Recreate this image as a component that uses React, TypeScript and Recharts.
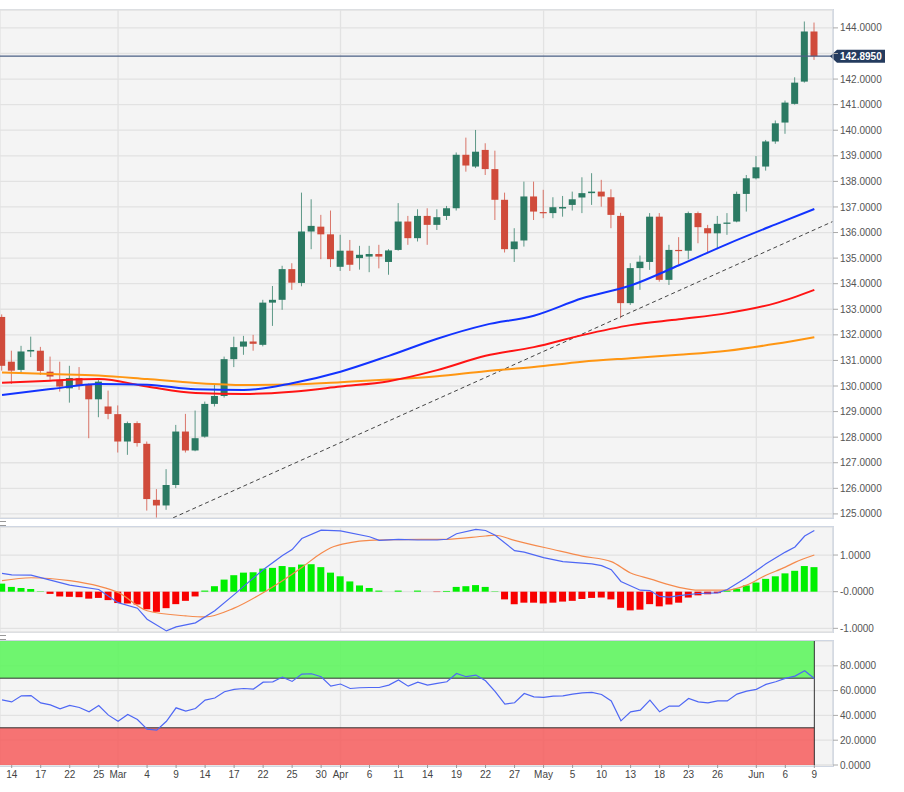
import React from "react";
import {
  ComposedChart,
  Bar,
  Line,
  XAxis,
  YAxis,
  CartesianGrid,
  ReferenceLine,
  ReferenceArea,
  Cell,
} from "recharts";

// bar index -1 = Feb 11, 0 = Feb 14 ... 83 = Jun 9 (weekdays)
const FIRST_IDX = -1;

const OPEN = [
  132.7, 130.95, 130.63, 131.35, 131.38, 130.56, 130.24, 129.91, 130.31, 130.04,
  129.48, 129.2, 128.9, 127.83, 128.55, 127.74, 125.55, 125.33, 126.13, 128.22,
  127.48, 128.02, 129.3, 129.61, 131.05, 131.54, 131.74, 131.61, 133.26, 133.37,
  134.57, 134.03, 136.04, 136.23, 135.93, 134.66, 135.29, 135.0, 135.06, 135.16,
  134.85, 135.32, 136.43, 135.78, 136.65, 136.3, 136.65, 136.95, 139.04, 138.58,
  139.23, 138.48, 137.28, 135.35, 135.69, 137.41, 136.8, 136.76, 136.94, 137.08,
  137.37, 137.54, 137.6, 137.38, 136.65, 133.24, 134.61, 134.85, 136.62, 134.15,
  135.32, 135.29, 136.76, 136.17, 135.97, 136.34, 136.43, 137.51, 138.12, 138.58,
  139.56, 140.3, 141.03, 141.9, 143.86,
];
const HIGH = [
  132.8, 131.38, 131.57, 131.93, 131.53, 131.15, 130.95, 130.79, 130.74, 130.1,
  130.31, 129.82, 129.24, 128.61, 128.62, 127.83, 125.97, 126.75, 128.48, 128.91,
  129.04, 129.39, 130.04, 131.15, 131.93, 131.96, 132.0, 133.37, 133.91, 134.7,
  134.8, 137.56, 137.3, 136.69, 136.86, 135.91, 135.71, 135.48, 135.48, 135.52,
  135.35, 137.15, 136.65, 136.91, 136.95, 136.91, 137.04, 139.13, 139.71, 140.01,
  139.49, 139.2, 137.56, 136.17, 137.99, 137.99, 137.67, 137.38, 137.43, 137.6,
  138.16, 138.32, 138.06, 137.69, 136.77, 134.8, 135.1, 136.76, 136.76, 135.52,
  135.82, 136.82, 136.82, 136.3, 136.65, 136.76, 137.6, 138.25, 138.99, 139.62,
  140.38, 141.16, 142.07, 144.25, 144.21,
];
const LOW = [
  130.6, 130.08, 130.51, 131.13, 130.43, 130.24, 129.78, 129.35, 129.85, 127.96,
  128.78, 128.7, 127.4, 127.31, 127.63, 125.13, 124.86, 125.16, 126.01, 127.4,
  127.45, 127.98, 129.2, 129.55, 130.74, 131.22, 131.38, 131.55, 132.35, 132.98,
  133.76, 133.9, 135.35, 134.96, 134.65, 134.5, 134.5, 134.55, 134.45, 134.6,
  134.35, 135.29, 135.52, 135.65, 135.52, 136.1, 136.49, 136.86, 138.38, 138.52,
  138.25, 136.49, 135.22, 134.85, 135.45, 136.49, 136.56, 136.56, 136.62, 136.86,
  136.76, 137.08, 137.01, 136.17, 132.65, 133.17, 133.76, 134.54, 134.08, 133.95,
  134.75, 134.95, 135.58, 135.19, 135.35, 135.91, 136.4, 136.82, 138.08, 138.42,
  139.47, 139.86, 141.0, 141.86, 142.75,
];
const CLOSE = [
  130.79, 130.6, 131.35, 131.41, 130.59, 130.37, 129.98, 130.31, 130.04, 129.48,
  130.17, 128.91, 127.83, 128.55, 127.77, 125.58, 125.33, 126.13, 128.22, 127.48,
  127.96, 129.3, 129.61, 131.05, 131.52, 131.74, 131.65, 133.26, 133.37, 134.57,
  134.04, 136.04, 136.26, 135.93, 134.96, 135.29, 134.74, 135.13, 135.16, 135.06,
  135.3, 136.43, 135.78, 136.65, 136.3, 136.6, 136.95, 139.04, 138.62, 139.16,
  138.48, 137.28, 135.35, 135.65, 137.41, 136.82, 136.76, 136.99, 137.0, 137.3,
  137.54, 137.6, 137.41, 136.69, 133.24, 134.61, 134.86, 136.62, 134.15, 135.32,
  135.28, 136.76, 136.21, 135.97, 136.34, 136.39, 137.51, 138.12, 138.55, 139.56,
  140.27, 141.08, 141.86, 143.86, 142.895,
];
const LAST_PRICE = 142.895;

// moving averages at a few bars
const MA_IDX = [-1, 4, 9, 14, 19, 24, 29, 34, 39, 44, 49, 54, 59, 64, 69, 74, 79, 83];
const SMA50 = [
  129.65, 129.88, 130.08, 130.05, 129.87, 129.84, 130.11, 130.56, 131.18, 131.85,
  132.39, 132.75, 133.43, 133.93, 134.72, 135.55, 136.32, 136.92,
];
const SMA100 = [
  130.13, 130.21, 130.27, 129.98, 129.73, 129.69, 129.78, 129.98, 130.19, 130.62,
  131.18, 131.52, 131.99, 132.38, 132.61, 132.85, 133.24, 133.76,
];
const SMA200 = [
  130.53, 130.47, 130.41, 130.27, 130.12, 130.04, 130.06, 130.15, 130.25, 130.38,
  130.58, 130.74, 130.95, 131.09, 131.22, 131.38, 131.65, 131.91,
];
const TREND = [
  { x: 16.7, y: 124.85 },
  { x: 84.9, y: 136.43 },
];

const HIST = [
  0.22, 0.13, 0.1, 0.07, 0.01, -0.06, -0.13, -0.14, -0.15, -0.19,
  -0.17, -0.23, -0.31, -0.32, -0.35, -0.48, -0.55, -0.45, -0.34, -0.25,
  -0.13, 0.03, 0.15, 0.33, 0.45, 0.52, 0.53, 0.63, 0.65, 0.7,
  0.67, 0.74, 0.75, 0.67, 0.52, 0.42, 0.28, 0.17, 0.1, 0.03,
  0.0, 0.03, 0.0, 0.03, 0.0, -0.01, 0.02, 0.13, 0.15, 0.18,
  0.13, 0.01, -0.21, -0.34, -0.3, -0.3, -0.32, -0.3, -0.27, -0.25,
  -0.2, -0.17, -0.16, -0.21, -0.44, -0.51, -0.49, -0.34, -0.4, -0.35,
  -0.3, -0.16, -0.1, -0.07, -0.04, 0.03, 0.08, 0.17, 0.25, 0.35,
  0.42, 0.5, 0.57, 0.7, 0.67,
];
const MACD_IDX = [
  -1, 0, 2, 6, 9, 11, 13, 14, 16, 17, 19, 21, 23, 26, 28, 29, 30, 32, 34, 37, 38,
  40, 42, 44, 45, 46, 48, 49, 50, 52, 53, 55, 57, 60, 61, 62, 63, 65, 66, 67, 68,
  69, 71, 73, 74, 76, 78, 80, 81, 82, 83,
];
const MACD_VAL = [
  0.5, 0.46, 0.45, 0.18, 0.06, -0.3, -0.45, -0.75, -1.07, -0.96, -0.85, -0.52,
  -0.08, 0.6, 0.99, 1.15, 1.45, 1.68, 1.66, 1.5, 1.4, 1.43, 1.41, 1.41, 1.43,
  1.58, 1.7, 1.67, 1.54, 1.12, 1.08, 0.93, 0.82, 0.76, 0.71, 0.6, 0.28, 0.04,
  0.03, -0.13, -0.15, -0.11, -0.05, -0.03, 0.06, 0.39, 0.76, 1.08, 1.22, 1.52,
  1.67,
];
const SIG_IDX = [
  -1, 2, 6, 9, 11, 14, 18, 20, 23, 26, 30, 32, 33, 35, 37, 40, 45, 49, 50, 52, 56,
  59, 62, 64, 66, 69, 71, 74, 76, 78, 80, 81, 83,
];
const SIG_VAL = [
  0.3, 0.38, 0.3, 0.15, -0.02, -0.52, -0.66, -0.69, -0.45, -0.03, 0.66, 1.05,
  1.2, 1.34, 1.4, 1.42, 1.43, 1.52, 1.54, 1.4, 1.15, 0.97, 0.82, 0.51, 0.35,
  0.12, 0.04, 0.04, 0.18, 0.45, 0.67, 0.8, 1.0,
];

const RSI = [
  52.5, 50.9, 55.8, 56.0, 50.1, 48.5, 45.3, 48.0, 46.4, 42.9,
  48.0, 40.2, 35.3, 40.7, 36.7, 28.9, 28.1, 35.3, 46.1, 43.4,
  45.6, 52.3, 54.0, 59.1, 61.0, 61.7, 61.2, 66.8, 67.1, 70.9,
  67.4, 73.3, 73.6, 71.2, 63.6, 65.3, 61.7, 62.3, 62.5, 62.5,
  64.4, 68.5, 63.6, 66.8, 64.4, 65.8, 67.1, 73.8, 71.2, 72.5,
  67.9, 59.1, 49.1, 50.2, 57.7, 55.0, 54.5, 55.6, 55.8, 57.2,
  58.2, 58.5, 56.9, 51.7, 35.6, 42.9, 44.2, 52.3, 42.9, 47.5,
  47.5, 53.6, 50.9, 50.1, 51.7, 51.7, 57.2, 59.6, 61.0, 65.0,
  67.1, 69.8, 71.7, 76.0, 69.8,
];

const X_TICKS = [0, 3, 6, 9, 11, 14, 17, 20, 23, 26, 29, 32, 34, 37, 40, 43, 46, 49, 52, 55, 58, 61, 64, 67, 70, 73, 77, 80, 83];
const X_LABELS = ["14", "17", "22", "25", "Mar", "4", "9", "14", "17", "22", "25", "30", "Apr", "6", "11", "14", "19", "22", "27", "May", "5", "10", "13", "18", "23", "26", "Jun", "6", "9"];
const MONTH_IDX = [11, 34, 55, 77];

const PRICE_TICKS = [125, 126, 127, 128, 129, 130, 131, 132, 133, 134, 135, 136, 137, 138, 139, 140, 141, 142, 143, 144];
const HIDDEN_PRICE_TICK = 143; // covered by the last-price tag
const MACD_TICKS = [-1, 0, 1];
const RSI_TICKS = [0, 20, 40, 60, 80];

const X_DOMAIN: [number, number] = [-1.21, 84.93];
const UP = "#2b7a63";
const DOWN = "#d04b3b";
const GRID = "#e2e2e2";
const TICK = { fontSize: 10, fill: "#555" };

type Row = {
  i: number;
  open: number;
  high: number;
  low: number;
  close: number;
  hist: number;
  rsi: number;
  sma50: number | null;
  sma100: number | null;
  sma200: number | null;
  macd: number | null;
  signal: number | null;
};

const rows: Row[] = OPEN.map((o, k) => ({
  i: k + FIRST_IDX,
  open: o,
  high: HIGH[k],
  low: LOW[k],
  close: CLOSE[k],
  hist: HIST[k],
  rsi: RSI[k],
  sma50: null,
  sma100: null,
  sma200: null,
  macd: null,
  signal: null,
}));
MA_IDX.forEach((idx, j) => {
  const r = rows[idx - FIRST_IDX];
  r.sma50 = SMA50[j];
  r.sma100 = SMA100[j];
  r.sma200 = SMA200[j];
});
MACD_IDX.forEach((idx, j) => (rows[idx - FIRST_IDX].macd = MACD_VAL[j]));
SIG_IDX.forEach((idx, j) => (rows[idx - FIRST_IDX].signal = SIG_VAL[j]));

function Candle(props: any) {
  const { x, y, width, height, payload } = props;
  if (x == null || y == null) return null;
  const top = Math.min(y, y + height);
  const h = Math.abs(height);
  const { open, close, high, low } = payload;
  const cx = x + width / 2;
  const span = high - low || 1;
  const toY = (v: number) => top + ((high - v) / span) * h;
  const color = close >= open ? UP : DOWN;
  const bTop = toY(Math.max(open, close));
  const bBot = toY(Math.min(open, close));
  return (
    <g>
      <line x1={cx} x2={cx} y1={top} y2={top + h} stroke={color} strokeOpacity={0.75} />
      <rect x={cx - 3.5} y={bTop} width={7} height={Math.max(1.2, bBot - bTop)} fill={color} />
    </g>
  );
}

function PriceTag(props: any) {
  const vb = props.viewBox;
  if (!vb) return null;
  const x = vb.x + vb.width - 3;
  const y = vb.y;
  return (
    <g>
      <path d={`M${x} ${y} L${x + 7} ${y - 6.5} H${x + 55} V${y + 6.5} H${x + 7} Z`} fill="#243b5e" />
      <text x={x + 10} y={y + 3.6} fill="#fff" fontSize={10} fontWeight="bold">
        {LAST_PRICE.toFixed(4)}
      </text>
    </g>
  );
}

const panel = (top: number, height: number): React.CSSProperties => ({
  position: "absolute",
  left: -1,
  top,
  width: 835,
  height,
  boxSizing: "border-box",
  border: "1px solid #cfd6e2",
  background: "#f4f4f4",
});

const handle = (top: number): React.CSSProperties => ({
  position: "absolute",
  left: 0,
  top,
  width: 6,
  height: 5,
  borderTop: "1px solid #999",
  borderBottom: "1px solid #999",
  boxSizing: "border-box",
});

// hidden axis that only carries the month-start grid lines
const monthAxis = (
  <XAxis xAxisId="m" dataKey="i" type="number" domain={X_DOMAIN} allowDataOverflow ticks={MONTH_IDX} hide />
);

export default function App() {
  return (
    <div
      style={{
        position: "absolute",
        left: 0,
        top: 0,
        width: 904,
        height: 792,
        background: "#fff",
        overflow: "hidden",
        fontFamily: '"Liberation Sans", Arial, sans-serif',
      }}
    >
      <div style={panel(9, 510)} />
      <div style={panel(526, 107)} />
      <div style={panel(640, 127)} />
      <div style={handle(521)} />
      <div style={handle(635)} />

      <div style={{ position: "absolute", left: 0, top: 0 }}>
        <ComposedChart width={904} height={518} data={rows} margin={{ top: 10, right: 0, bottom: 0, left: 0 }}>
          <CartesianGrid xAxisId="m" stroke={GRID} strokeWidth={1.3} />
          <XAxis dataKey="i" type="number" domain={X_DOMAIN} allowDataOverflow hide />
          {monthAxis}
          <YAxis
            orientation="right"
            width={71}
            domain={[124.84, 144.7]}
            allowDataOverflow
            ticks={PRICE_TICKS}
            interval={0}
            tick={TICK}
            tickSize={5}
            tickMargin={2}
            tickLine={{ stroke: "#aaa" }}
            axisLine={{ stroke: "#cfd6e2" }}
            tickFormatter={(v: number) => (v === HIDDEN_PRICE_TICK ? "" : v.toFixed(4))}
          />
          <ReferenceLine segment={TREND} stroke="#444" strokeDasharray="4 3" ifOverflow="visible" />
          <Line type="monotone" dataKey="sma200" stroke="#ff9612" strokeWidth={2} dot={false} connectNulls isAnimationActive={false} />
          <Line type="monotone" dataKey="sma100" stroke="#ff1414" strokeWidth={2} dot={false} connectNulls isAnimationActive={false} />
          <Line type="monotone" dataKey="sma50" stroke="#1233ff" strokeWidth={2} dot={false} connectNulls isAnimationActive={false} />
          <Bar
            dataKey={(d: Row) => [d.low, d.high]}
            barSize={7}
            shape={(p: any) => <Candle {...p} />}
            isAnimationActive={false}
          />
          <ReferenceLine y={LAST_PRICE} stroke="#4a5f85" strokeWidth={1.4} label={(p: any) => <PriceTag {...p} />} />
        </ComposedChart>
      </div>

      <div style={{ position: "absolute", left: 0, top: 527 }}>
        <ComposedChart width={904} height={113} data={rows} margin={{ top: 0, right: 0, bottom: 8, left: 0 }}>
          <CartesianGrid xAxisId="m" stroke={GRID} strokeWidth={1.3} />
          <XAxis dataKey="i" type="number" domain={X_DOMAIN} allowDataOverflow hide />
          {monthAxis}
          <YAxis
            orientation="right"
            width={71}
            domain={[-1.1, 1.765]}
            allowDataOverflow
            ticks={MACD_TICKS}
            interval={0}
            tick={TICK}
            tickSize={5}
            tickMargin={2}
            tickLine={{ stroke: "#aaa" }}
            axisLine={{ stroke: "#cfd6e2" }}
            tickFormatter={(v: number) => (v === 0 ? "-0.0000" : v.toFixed(4))}
          />
          <Bar dataKey="hist" barSize={7} isAnimationActive={false}>
            {rows.map((r) => (
              <Cell key={r.i} fill={r.hist >= 0 ? "#00f000" : "#f80000"} />
            ))}
          </Bar>
          <Line type="monotone" dataKey="signal" stroke="#f58a4c" strokeWidth={1.2} dot={false} connectNulls isAnimationActive={false} />
          <Line type="linear" dataKey="macd" stroke="#4e67f4" strokeWidth={1.2} dot={false} connectNulls isAnimationActive={false} />
        </ComposedChart>
      </div>

      <div style={{ position: "absolute", left: 0, top: 641 }}>
        <ComposedChart width={904} height={151} data={rows} margin={{ top: 0, right: 0, bottom: 0, left: 0 }}>
          <CartesianGrid xAxisId="m" stroke={GRID} strokeWidth={1.3} />
          <XAxis
            dataKey="i"
            type="number"
            domain={X_DOMAIN}
            allowDataOverflow
            height={27}
            ticks={X_TICKS}
            interval={0}
            tick={{ fontSize: 10, fill: "#444" }}
            tickSize={3}
            tickMargin={3}
            tickLine={{ stroke: "#999" }}
            axisLine={false}
            tickFormatter={(v: number) => X_LABELS[X_TICKS.indexOf(v)]}
          />
          {monthAxis}
          <YAxis
            orientation="right"
            width={71}
            domain={[0, 100]}
            allowDataOverflow
            ticks={RSI_TICKS}
            interval={0}
            tick={TICK}
            tickSize={5}
            tickMargin={2}
            tickLine={{ stroke: "#aaa" }}
            axisLine={{ stroke: "#cfd6e2" }}
            tickFormatter={(v: number) => v.toFixed(4)}
          />
          <ReferenceArea x1={X_DOMAIN[0]} x2={83} y1={70} y2={100} fill="#5cf55c" fillOpacity={0.88} stroke="none" />
          <ReferenceArea x1={X_DOMAIN[0]} x2={83} y1={0} y2={30} fill="#f65c5c" fillOpacity={0.85} stroke="none" />
          <ReferenceLine segment={[{ x: X_DOMAIN[0], y: 70 }, { x: 83, y: 70 }]} stroke="#333" />
          <ReferenceLine segment={[{ x: X_DOMAIN[0], y: 30 }, { x: 83, y: 30 }]} stroke="#333" />
          <ReferenceLine segment={[{ x: 83, y: 0 }, { x: 83, y: 100 }]} stroke="#333" />
          <Line type="linear" dataKey="rsi" stroke="#4e67f4" strokeWidth={1.2} dot={false} isAnimationActive={false} />
        </ComposedChart>
      </div>
    </div>
  );
}
